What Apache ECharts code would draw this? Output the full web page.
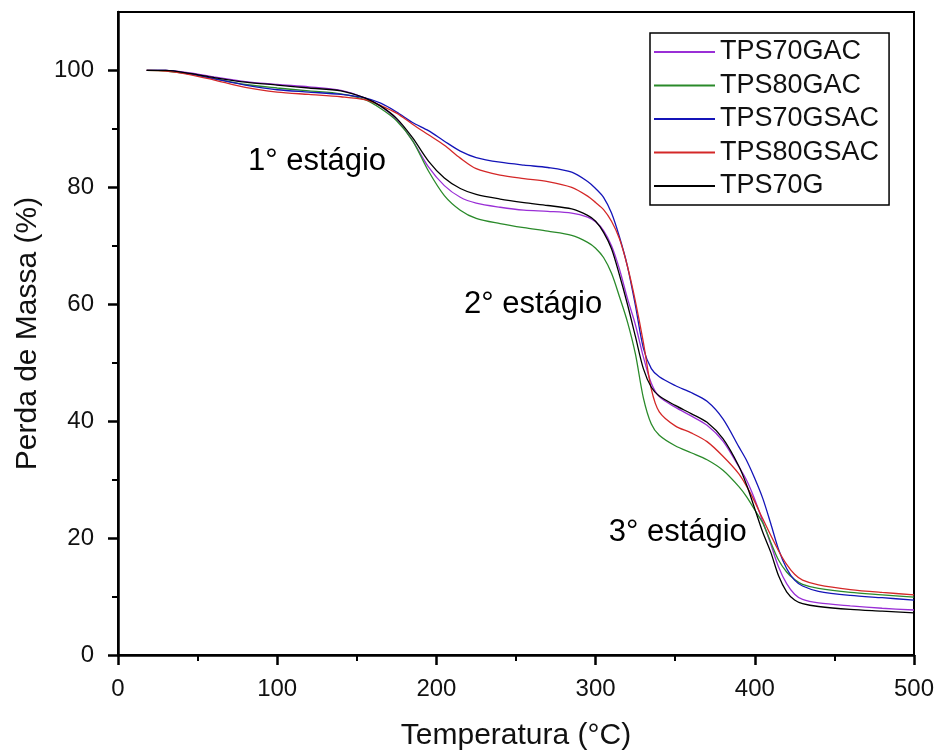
<!DOCTYPE html>
<html>
<head>
<meta charset="utf-8">
<script src="https://cdn.jsdelivr.net/npm/echarts@6/dist/echarts.min.js"></script>
<style>
  html, body { margin: 0; padding: 0; background: #fff; }
  #chart { width: 941px; height: 756px; }
</style>
</head>
<body>
<div id="chart"></div>
<script>
// Temperature (°C) sample points
var temperature = [18, 30, 45, 60, 80, 100, 120, 140, 155, 165, 175, 185, 195, 205, 215, 225, 240, 255, 270, 285, 295, 300, 305, 310, 315, 320, 325, 330, 335, 340, 350, 360, 370, 380, 390, 395, 400, 405, 410, 415, 420, 425, 430, 440, 460, 480, 500];

// Mass (%) for each sample
var tps70gac  = [100, 100, 99.6, 98.9, 98.1, 97.6, 97.2, 96.6, 95.3, 93.9, 91.6, 88, 83.5, 80.3, 78.3, 77.3, 76.6, 76.1, 75.9, 75.6, 74.9, 74.1, 72.6, 70, 66, 61, 56.5, 51, 46.5, 44.2, 42.4, 40.9, 39.3, 36.6, 32.2, 29.8, 26.6, 22.8, 19, 15, 12.2, 10.4, 9.5, 8.9, 8.4, 8, 7.7];
var tps80gac  = [100, 99.9, 99.4, 98.6, 97.6, 97, 96.5, 96, 95, 93.5, 91.4, 88, 82.8, 78.6, 76.1, 74.7, 73.8, 73.1, 72.5, 71.8, 70.6, 69.6, 68, 65.3, 61.3, 57, 51.5, 44, 39.5, 37.6, 35.8, 34.6, 33.4, 31.6, 28.8, 27, 24.8, 22.6, 19.3, 16.2, 14.2, 12.9, 12.1, 11.4, 10.7, 10.3, 9.9];
var tps70gsac = [100, 100, 99.4, 98.6, 97.5, 96.7, 96.3, 95.9, 95.3, 94.4, 92.9, 91.1, 89.7, 87.9, 86.2, 85.1, 84.3, 83.8, 83.4, 82.6, 81, 79.8, 78.3, 75.6, 71.5, 66.5, 59.8, 52.5, 49, 47.6, 46.1, 44.9, 43.4, 40.4, 35.6, 33.2, 30.2, 26.8, 22.5, 18, 14.8, 12.8, 11.8, 10.9, 10.2, 9.8, 9.4];
var tps80gsac = [100, 99.9, 99.3, 98.4, 97.1, 96.3, 95.9, 95.5, 95, 94, 92.7, 90.8, 89, 87.2, 85, 83.2, 82.1, 81.5, 81, 80, 78.5, 77.4, 76.2, 74.2, 71.2, 66.5, 60.5, 53.5, 45.5, 41.6, 39.2, 38, 36.5, 34, 31, 28.8, 26.2, 23.3, 20.5, 17.8, 15.5, 13.8, 12.8, 12, 11.2, 10.7, 10.3];
var tps70g    = [100, 100, 99.5, 98.8, 98, 97.5, 97, 96.5, 95.3, 93.9, 91.8, 88.5, 84.5, 81.6, 79.8, 78.8, 78, 77.4, 76.9, 76.3, 75.2, 74.2, 72.3, 69.5, 65, 60, 54.5, 49, 45.8, 44.3, 42.7, 41.3, 39.8, 37, 32.3, 29, 25, 21, 17.6, 13.5, 10.8, 9.4, 8.8, 8.3, 7.8, 7.5, 7.2];

var seriesNames  = ['TPS70GAC', 'TPS80GAC', 'TPS70GSAC', 'TPS80GSAC', 'TPS70G'];
var seriesValues = [tps70gac, tps80gac, tps70gsac, tps80gsac, tps70g];
var seriesColors = ['#9a2fd6', '#2a8a2a', '#1414b8', '#d42828', '#000000'];

// Stage annotations: [temperature, mass, text]
var annotationX = [125, 260.7, 351.6];
var annotationY = [84.4, 60, 20.9];
var annotationText = ['1° estágio', '2° estágio', '3° estágio'];

var yTicks = [0, 20, 40, 60, 80, 100];
var yMinorTicks = [10, 30, 50, 70, 90];

var FONT = '"Liberation Sans", Arial, sans-serif';

var chart = echarts.init(document.getElementById('chart'), null, { renderer: 'canvas' });

var series = seriesNames.map(function (name, i) {
  return {
    name: name,
    type: 'line',
    data: temperature.map(function (t, j) { return [t, seriesValues[i][j]]; }),
    showSymbol: false,
    symbol: 'none',
    smooth: 0.3,
    lineStyle: { color: seriesColors[i], width: 1.3 },
    itemStyle: { color: seriesColors[i] },
    z: 3,
    silent: true
  };
});

series.push({
  name: 'annotations',
  type: 'scatter',
  data: annotationText.map(function (txt, i) { return { value: [annotationX[i], annotationY[i]], name: txt }; }),
  symbolSize: 2,
  itemStyle: { color: '#ffffff', opacity: 0 },
  silent: true,
  z: 5,
  label: {
    show: true,
    position: 'inside',
    formatter: '{b}',
    fontFamily: FONT,
    fontSize: 31,
    color: '#000',
    opacity: 1,
    textBorderWidth: 0,
    align: 'center',
    verticalAlign: 'middle'
  }
});

chart.setOption({
  animation: false,
  backgroundColor: '#fff',
  grid: {
    left: 118, right: 27, top: 12, bottom: 101,
    show: true, borderColor: '#000', borderWidth: 2, backgroundColor: 'transparent'
  },
  legend: {
    data: seriesNames,
    orient: 'vertical',
    left: 650,
    top: 33,
    padding: [5, 10, 5, 4],
    itemWidth: 61,
    itemHeight: 2,
    itemGap: 5.5,
    icon: 'rect',
    borderColor: '#000',
    borderWidth: 1.5,
    backgroundColor: '#fff',
    textStyle: { fontFamily: FONT, fontSize: 27, color: '#111', lineHeight: 28 }
  },
  xAxis: {
    type: 'value',
    min: 0, max: 500, interval: 100,
    name: 'Temperatura (°C)',
    nameLocation: 'middle',
    nameGap: 66,
    nameTextStyle: { fontFamily: FONT, fontSize: 30, color: '#111' },
    axisLine: { show: true, onZero: false, lineStyle: { color: '#000', width: 2.5 } },
    axisTick: { show: true, inside: false, length: 10, lineStyle: { color: '#000', width: 2.5 } },
    minorTick: { show: true, splitNumber: 2, length: 6, lineStyle: { color: '#000', width: 2 } },
    axisLabel: { fontFamily: FONT, fontSize: 24, color: '#111', margin: 22 },
    splitLine: { show: false },
    minorSplitLine: { show: false }
  },
  yAxis: [{
    type: 'value',
    min: 0, max: 110,
    name: 'Perda de Massa (%)',
    nameLocation: 'middle',
    nameGap: 58,
    nameRotate: 90,
    nameTextStyle: { fontFamily: FONT, fontSize: 30, color: '#111' },
    axisLine: { show: true, onZero: false, lineStyle: { color: '#000', width: 2.5 } },
    axisTick: { show: true, inside: false, length: 10, customValues: yTicks, lineStyle: { color: '#000', width: 2.5 } },
    axisLabel: { fontFamily: FONT, fontSize: 24, color: '#111', margin: 24, customValues: yTicks },
    splitLine: { show: false }
  }, {
    type: 'value',
    min: 0, max: 110,
    position: 'left',
    axisLine: { show: false },
    axisTick: { show: true, inside: false, length: 6, customValues: yMinorTicks, lineStyle: { color: '#000', width: 2 } },
    axisLabel: { show: false },
    splitLine: { show: false }
  }],
  series: series
});
</script>
</body>
</html>
